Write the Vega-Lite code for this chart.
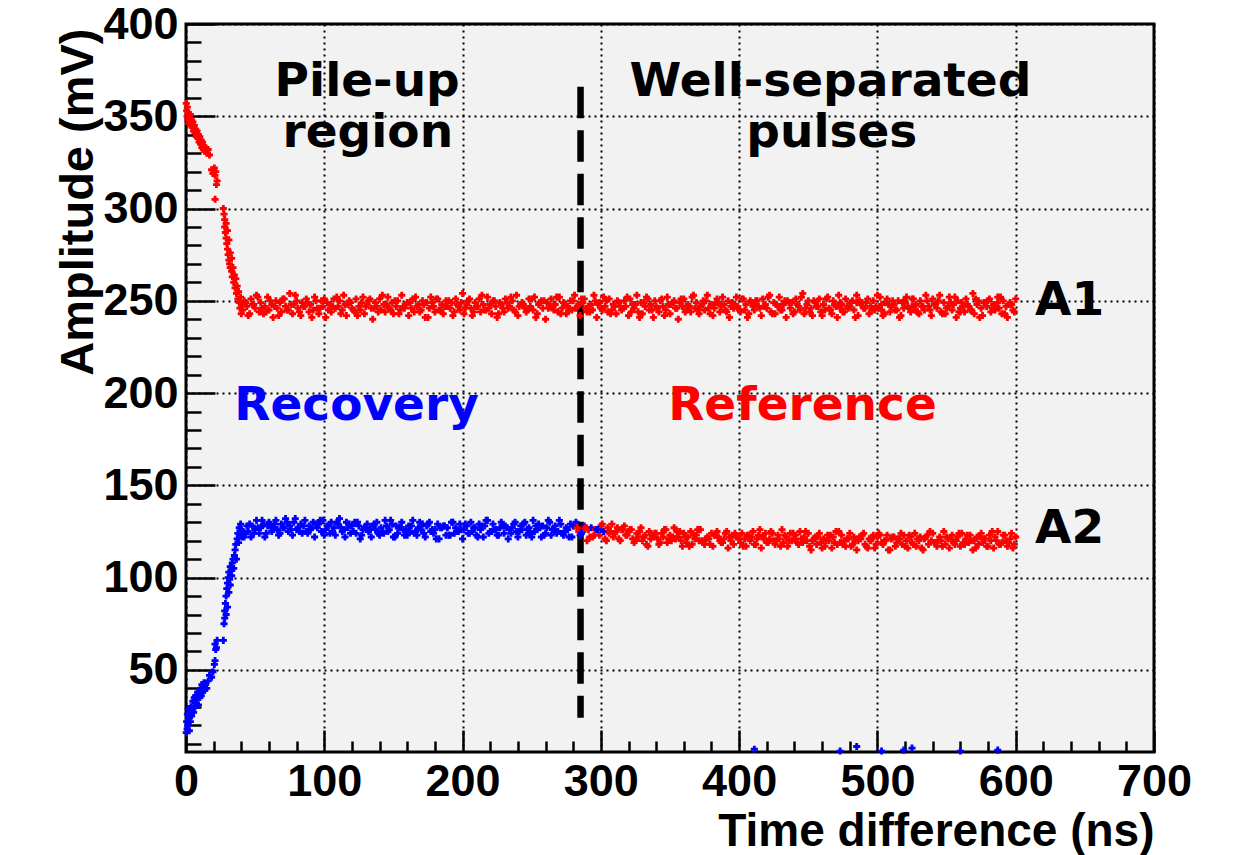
{
  "$schema": "https://vega.github.io/schema/vega-lite/v6.json",
  "width": 968,
  "height": 728,
  "autosize": {"type": "none"},
  "padding": {"left": 186, "top": 24, "right": 100, "bottom": 103},
  "background": "white",
  "config": {
    "view": {"fill": "#f2f2f2", "stroke": "black", "strokeWidth": 3}
  },
  "encoding": {
    "x": {
      "field": "t", "type": "quantitative",
      "scale": {"domain": [0, 700], "nice": false, "zero": false},
      "axis": {
        "title": "Time difference (ns)",
        "values": [0,20,40,60,80,100,120,140,160,180,200,220,240,260,280,300,320,340,360,380,400,420,440,460,480,500,520,540,560,580,600,620,640,660,680,700],
        "labelExpr": "datum.value % 100 === 0 ? datum.label : ''",
        "labelFlush": false, "labelOverlap": false,
        "labelFont": "Liberation Sans", "labelFontWeight": "bold", "labelFontSize": 45, "labelColor": "black",
        "labelPadding": 29,
        "tickSize": {"condition": {"test": "datum.value % 100 === 0", "value": -22}, "value": -11},
        "tickColor": "black", "tickWidth": 2.5,
        "domain": false,
        "grid": true, "gridColor": "black", "gridDash": [2, 4], "gridWidth": 2,
        "gridOpacity": {"condition": {"test": "datum.value % 100 === 0", "value": 1}, "value": 0},
        "titleFont": "Liberation Sans", "titleFontWeight": "bold", "titleFontSize": 46, "titleColor": "black",
        "titleAlign": "right", "titleBaseline": "alphabetic", "titleX": 968, "titleY": 93
      }
    },
    "y": {
      "field": "amp", "type": "quantitative",
      "scale": {"domain": [5.5, 400], "nice": false, "zero": false},
      "axis": {
        "title": "Amplitude (mV)",
        "values": [10,20,30,40,50,60,70,80,90,100,110,120,130,140,150,160,170,180,190,200,210,220,230,240,250,260,270,280,290,300,310,320,330,340,350,360,370,380,390,400],
        "labelExpr": "datum.value % 50 === 0 ? datum.label : ''",
        "labelFlush": false, "labelOverlap": false,
        "labelFont": "Liberation Sans", "labelFontWeight": "bold", "labelFontSize": 45, "labelColor": "black",
        "labelPadding": 37, "labelBaseline": "middle",
        "tickSize": {"condition": {"test": "datum.value % 50 === 0", "value": -29}, "value": -15},
        "tickColor": "black", "tickWidth": 2.5,
        "domain": false,
        "grid": true, "gridColor": "black", "gridDash": [2, 4], "gridWidth": 2,
        "gridOpacity": {"condition": {"test": "datum.value % 50 === 0", "value": 1}, "value": 0},
        "titleFont": "Liberation Sans", "titleFontWeight": "bold", "titleFontSize": 47, "titleColor": "black",
        "titleAngle": -90, "titleAlign": "right", "titleBaseline": "alphabetic", "titleX": -94, "titleY": 4
      }
    }
  },
  "layer": [
    {
      "data": {"values": [{"t": 285.3, "amp": 366, "amp2": 24}]},
      "mark": {"type": "rule", "color": "black", "strokeWidth": 6.5, "strokeDash": [31.5, 12]},
      "encoding": {"y2": {"field": "amp2"}}
    },
    {
      "data": {
        "values": "t,A1,A2,g\n0.2,357,16,r\n0.5,353,22,r\n0.8,350,18,r\n1,355,26,r\n1.3,348,20,r\n1.6,352,29,r\n2,346,24,r\n2.4,350,17,r\n2.8,347,27,r\n3.2,351,22,r\n3.6,345,30,r\n4,348,25,r\n4.5,344,28,r\n5,347,33,r\n5.5,342,27,r\n6,345,35,r\n6.5,341,30,r\n7,343,36,r\n7.5,339,32,r\n8,342,34,r\n8.5,338,38,r\n9,340,31,r\n9.5,336,37,r\n10,339,35,r\n10.5,335,40,r\n11,337,36,r\n11.5,333,42,r\n12,336,38,r\n12.5,332,41,r\n13,334,43,r\n13.5,331,39,r\n14,333,42,r\n15,330,40,r\n16,332,44,r\n17,329,47,r\n18.5,321,46,r\n19.5,319,49,r\n20.5,322,53,r\n21,318,55,r\n21.5,320,61,r\n22,313,62,r\n22.5,315,66,r\n21,305,64,r\n27,300,66,r\n27.5,297,75,r\n28,294,78,r\n28,290,82,r\n28.5,287,86,r\n29,292,80,r\n29,284,90,r\n29.5,281,94,r\n30,288,84,r\n30,278,97,r\n30.5,275,100,r\n31,283,92,r\n31,272,103,r\n31.5,270,99,r\n32,276,106,r\n32,268,96,r\n33,266,104,r\n33,273,101,r\n33.5,263,108,r\n34,268,110,r\n34.5,260,105,r\n35,264,112,r\n35.5,257,115,r\n36,262,118,r\n36.5,254,110,r\n37,258,121,r\n37.5,251,124,r\n38,255,119,r\n38.5,249,127,r\n39,246,123,r\n39.5,252,129,r\n40,243,126,r\n40.5,248,122,r\n41,245,125,r\n42,250,122,r\n44,247,128,r\n45,242,125,r\n47,251,122,r\n48,248,128,r\n50,246,126,r\n51,253,131,r\n53,244,124,r\n54,249,127,r\n56,243,129,r\n57,247,122,r\n59,252,128,r\n60,245,130,r\n62,248,125,r\n63,241,127,r\n65,250,131,r\n66,246,126,r\n68,249,124,r\n69,244,129,r\n71,251,127,r\n72,247,132,r\n74,245,125,r\n75,254,128,r\n77,243,123,r\n78,248,130,r\n80,250,126,r\n81,246,127,r\n83,242,129,r\n84,249,124,r\n86,247,131,r\n87,251,125,r\n89,244,128,r\n90,248,126,r\n92,245,130,r\n93,252,122,r\n95,246,127,r\n96,243,129,r\n98,250,125,r\n99,247,131,r\n101,241,126,r\n102,249,128,r\n104,248,124,r\n105,244,130,r\n107,251,127,r\n108,246,123,r\n110,247,129,r\n111,250,132,r\n113,245,125,r\n114,253,126,r\n116,242,130,r\n117,248,127,r\n119,249,124,r\n120,246,128,r\n122,244,130,r\n123,251,124,r\n125,247,128,r\n126,245,121,r\n128,252,126,r\n129,243,127,r\n131,248,129,r\n132,250,125,r\n134,246,122,r\n135,240,128,r\n137,249,126,r\n138,247,130,r\n140,251,123,r\n141,245,127,r\n143,248,124,r\n144,244,131,r\n146,252,125,r\n147,246,126,r\n149,249,129,r\n150,243,122,r\n152,247,128,r\n153,250,124,r\n155,245,127,r\n156,253,130,r\n158,246,123,r\n159,248,126,r\n161,242,128,r\n162,249,125,r\n164,251,131,r\n165,244,124,r\n167,247,123,r\n168,248,127,r\n170,245,126,r\n171,250,129,r\n173,241,122,r\n174,249,128,r\n176,246,130,r\n177,252,125,r\n179,247,124,r\n180,244,126,r\n182,251,129,r\n183,245,121,r\n185,248,127,r\n186,243,128,r\n188,250,123,r\n189,247,127,r\n191,246,123,r\n192,249,130,r\n194,244,124,r\n195,251,127,r\n197,247,125,r\n198,245,129,r\n200,254,121,r\n201,243,126,r\n203,248,128,r\n204,250,124,r\n206,246,130,r\n207,242,125,r\n209,249,127,r\n210,247,123,r\n212,251,129,r\n213,244,126,r\n215,248,122,r\n216,245,128,r\n218,252,131,r\n219,246,124,r\n221,243,125,r\n222,250,129,r\n224,247,126,r\n225,241,123,r\n227,249,127,r\n228,248,130,r\n230,244,124,r\n231,251,128,r\n233,246,121,r\n234,247,126,r\n236,250,127,r\n237,245,129,r\n239,253,125,r\n240,242,122,r\n242,248,128,r\n243,249,126,r\n245,246,130,r\n246,244,123,r\n248,251,127,r\n249,247,124,r\n251,245,131,r\n252,252,125,r\n254,243,126,r\n255,248,129,r\n257,250,122,r\n258,246,128,r\n260,240,124,r\n261,249,127,r\n263,247,130,r\n264,251,123,r\n266,245,126,r\n267,248,128,r\n269,244,125,r\n270,252,131,r\n272,246,124,r\n273,249,123,r\n275,243,127,r\n276,247,126,r\n278,250,129,r\n279,245,122,r\n281,253,128,f\n282,246,130,r\n284,248,125,f\n285,242,123,r\n287,249,125,f\n288,251,128,r\n290,244,120,f\n291,247,126,f\n293,248,127,r\n294,245,122,f\n296,250,126,f\n297,241,126,r\n299,249,123,f\n300,246,128,f\n302,252,125,r\n303,247,121,f\n305,244,127,f\n306,251,124,f\n308,245,129,f\n309,248,122,f\n311,243,125,f\n312,250,127,f\n314,247,120,f\n315,245,126,f\n317,250,128,f\n318,247,123,f\n320,242,125,f\n321,251,126,f\n323,248,121,f\n324,246,119,f\n326,253,124,f\n327,244,122,f\n329,249,127,f\n330,243,120,f\n332,247,123,f\n333,252,118,f\n335,245,125,f\n336,248,121,f\n338,241,122,f\n339,250,124,f\n341,246,121,f\n342,244,118,f\n344,251,124,f\n345,247,122,f\n347,245,126,f\n348,252,119,f\n350,243,123,f\n351,248,120,f\n353,250,127,f\n354,246,121,f\n356,240,122,f\n357,249,125,f\n359,247,117,f\n360,251,124,f\n362,245,119,f\n363,248,122,f\n365,244,125,f\n366,252,118,f\n368,246,121,f\n369,249,123,f\n371,243,120,f\n372,247,126,f\n374,250,119,f\n375,245,118,f\n377,253,122,f\n378,246,121,f\n380,248,124,f\n381,242,117,f\n383,249,123,f\n384,251,125,f\n386,244,120,f\n387,247,119,f\n389,248,121,f\n390,245,124,f\n392,250,116,f\n393,241,122,f\n395,249,123,f\n396,246,118,f\n398,252,122,f\n399,247,122,f\n401,244,119,f\n402,251,124,f\n404,245,121,f\n405,248,117,f\n407,243,123,f\n408,250,120,f\n410,247,125,f\n411,245,118,f\n413,250,121,f\n414,247,123,f\n416,242,116,f\n417,251,122,f\n419,248,124,f\n420,246,119,f\n422,253,121,f\n423,244,125,f\n425,249,120,f\n426,243,118,f\n428,247,123,f\n429,252,121,f\n431,245,126,f\n432,248,119,f\n434,241,122,f\n435,250,117,f\n437,246,124,f\n438,249,120,f\n440,244,121,f\n441,251,123,f\n443,247,118,f\n444,245,125,f\n446,254,119,f\n447,243,122,f\n449,248,120,f\n450,250,124,f\n452,246,115,f\n453,242,120,f\n455,249,122,f\n456,247,118,f\n458,251,124,f\n459,244,119,f\n461,248,121,f\n462,245,117,f\n464,252,123,f\n465,246,120,f\n467,243,116,f\n468,250,122,f\n470,247,125,f\n471,241,118,f\n473,249,119,f\n474,248,123,f\n476,244,120,f\n477,251,117,f\n479,246,121,f\n480,247,124,f\n482,250,118,f\n483,245,122,f\n485,253,115,f\n486,242,120,f\n488,248,121,f\n489,249,123,f\n491,246,118,f\n492,249,117,f\n494,243,121,f\n495,247,120,f\n497,250,123,f\n498,245,116,f\n500,253,122,f\n501,246,124,f\n503,248,119,f\n504,242,118,f\n506,249,120,f\n507,251,123,f\n509,244,115,f\n510,247,121,f\n512,248,122,f\n513,245,117,f\n515,250,121,f\n516,241,121,f\n518,249,118,f\n519,246,123,f\n521,252,120,f\n522,247,116,f\n524,244,122,f\n525,251,119,f\n527,245,124,f\n528,248,117,f\n530,243,120,f\n531,250,122,f\n533,247,115,f\n534,245,121,f\n536,250,123,f\n537,247,118,f\n539,242,120,f\n540,251,124,f\n542,248,119,f\n543,246,117,f\n545,253,122,f\n546,244,120,f\n548,249,125,f\n549,243,118,f\n551,247,121,f\n552,252,116,f\n554,245,123,f\n555,248,119,f\n557,241,120,f\n558,250,122,f\n560,246,117,f\n561,249,124,f\n563,244,118,f\n564,251,121,f\n566,247,119,f\n567,245,123,f\n569,254,115,f\n570,243,120,f\n572,248,122,f\n573,250,118,f\n575,246,124,f\n576,242,119,f\n578,249,121,f\n579,247,117,f\n581,251,123,f\n582,244,120,f\n584,248,116,f\n585,245,122,f\n587,252,125,f\n588,246,118,f\n590,243,119,f\n591,250,123,f\n593,247,120,f\n594,241,117,f\n596,249,121,f\n597,248,124,f\n599,244,118,f\n600,251,122,f\n43,249,124,r\n46,243,129,r\n49,248,124,r\n52,252,127,r\n55,246,131,r\n58,244,124,r\n61,250,128,r\n64,247,129,r\n67,242,123,r\n70,251,127,r\n73,245,130,r\n76,248,126,r\n79,253,132,r\n82,244,125,r\n85,247,128,r\n88,249,124,r\n91,241,127,r\n94,250,129,r\n97,246,131,r\n100,251,123,r\n103,245,128,r\n106,247,125,r\n109,252,130,r\n112,243,127,r\n115,248,122,r\n118,250,129,r\n121,245,125,r\n124,242,130,r\n127,249,123,r\n130,247,127,r\n133,251,126,r\n136,246,129,r\n139,244,124,r\n142,253,125,r\n145,248,128,r\n148,245,131,r\n151,250,122,r\n154,243,127,r\n157,247,126,r\n160,249,123,r\n163,246,128,r\n166,252,125,r\n169,244,130,r\n172,248,124,r\n175,241,129,r\n178,249,126,r\n181,251,121,r\n184,245,127,r\n187,247,128,r\n190,250,123,r\n193,242,130,r\n196,248,125,r\n199,249,126,r\n202,246,129,r\n205,251,124,r\n208,244,127,r\n211,247,122,r\n214,253,128,r\n217,245,131,r\n220,248,125,r\n223,250,126,r\n226,243,123,r\n229,246,128,r\n232,249,127,r\n235,252,124,r\n238,244,130,r\n241,247,125,r\n244,248,129,r\n247,245,126,r\n250,251,122,r\n253,241,128,r\n256,249,127,r\n259,250,123,r\n262,246,131,r\n265,247,126,r\n268,252,124,r\n271,243,129,r\n274,248,125,r\n277,245,122,r\n280,250,128,r\n283,247,127,f\n286,251,124,r\n289,246,127,f\n292,244,122,f\n295,253,123,f\n298,248,126,r\n301,245,129,f\n304,250,120,f\n307,243,125,f\n310,247,124,f\n313,249,121,f\n316,246,126,f\n319,252,123,f\n322,244,126,f\n325,248,120,f\n328,241,125,f\n331,249,122,f\n334,251,117,f\n337,245,123,f\n340,247,124,f\n343,250,119,f\n346,242,126,f\n349,248,121,f\n352,249,122,f\n355,246,125,f\n358,251,120,f\n361,244,122,f\n364,247,117,f\n367,253,123,f\n370,245,126,f\n373,248,120,f\n376,250,121,f\n379,243,118,f\n382,246,123,f\n385,249,122,f\n388,252,119,f\n391,244,125,f\n394,247,120,f\n397,248,124,f\n400,245,121,f\n403,251,117,f\n406,241,123,f\n409,249,122,f\n412,250,118,f\n415,246,126,f\n418,247,121,f\n421,252,119,f\n424,243,124,f\n427,248,120,f\n430,245,117,f\n433,250,123,f\n436,249,120,f\n439,243,124,f\n442,248,119,f\n445,252,121,f\n448,246,125,f\n451,244,117,f\n454,250,121,f\n457,247,122,f\n460,242,116,f\n463,251,120,f\n466,245,123,f\n469,248,119,f\n472,253,125,f\n475,244,118,f\n478,247,121,f\n481,249,117,f\n484,241,120,f\n487,250,122,f\n490,246,124,f\n493,251,116,f\n496,245,121,f\n499,247,118,f\n502,252,123,f\n505,243,120,f\n508,248,115,f\n511,250,122,f\n514,245,119,f\n517,242,124,f\n520,249,117,f\n523,246,123,f\n526,251,118,f\n529,244,121,f\n532,247,116,f\n535,253,122,f\n538,245,125,f\n541,248,119,f\n544,250,120,f\n547,243,117,f\n550,246,122,f\n553,249,121,f\n556,252,118,f\n559,244,124,f\n562,247,119,f\n565,248,123,f\n568,245,120,f\n571,251,116,f\n574,241,122,f\n577,249,121,f\n580,250,117,f\n583,246,125,f\n586,247,120,f\n589,252,118,f\n592,243,123,f\n595,248,119,f\n598,245,116,f\n411,248,7,r\n473,246,6,r\n485,249,8.5,r\n503,245,6,r\n519,250,6.5,r\n525,247,7.6,r\n560,244,6,r\n587,249,6.5,r",
        "format": {"type": "csv", "parse": {"t": "number", "A1": "number", "A2": "number"}}
      },
      "transform": [{"fold": ["A1", "A2"], "as": ["pulse", "amp"]}],
      "mark": {"type": "point", "shape": "cross", "filled": true, "size": 50, "opacity": 1},
      "encoding": {
        "color": {
          "condition": {"test": "datum.pulse === 'A2' && datum.g === 'r'", "value": "#0000ff"},
          "value": "#ff0000"
        }
      }
    },
    {
      "data": {
        "values": [
          {"t": 131, "amp": 360.8, "label": "Pile-up"},
          {"t": 131.5, "amp": 333.6, "label": "region"},
          {"t": 466, "amp": 360.8, "label": "Well-separated"},
          {"t": 467, "amp": 333.6, "label": "pulses"},
          {"t": 123.3, "amp": 185.6, "label": "Recovery"},
          {"t": 445.8, "amp": 185.6, "label": "Reference"},
          {"t": 639, "amp": 242.5, "label": "A1"},
          {"t": 639, "amp": 119, "label": "A2"}
        ]
      },
      "mark": {"type": "text", "font": "DejaVu Sans", "fontWeight": "bold", "fontSize": 47, "align": "center", "baseline": "alphabetic"},
      "encoding": {
        "text": {"field": "label"},
        "color": {
          "condition": [
            {"test": "datum.label === 'Recovery'", "value": "#0000ff"},
            {"test": "datum.label === 'Reference'", "value": "#ff0000"}
          ],
          "value": "black"
        }
      }
    }
  ]
}
